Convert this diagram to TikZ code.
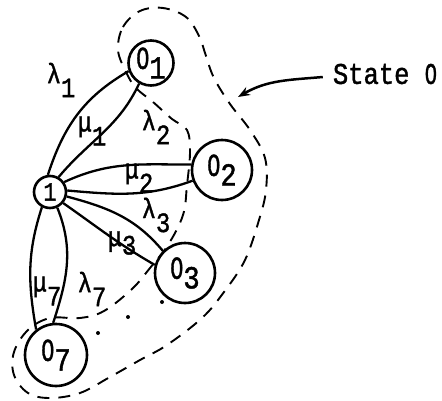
\documentclass[tikz,border=0pt]{standalone}
\usepackage{fontspec}
\setmainfont{Liberation Mono}[FakeBold=1.5]
\usetikzlibrary{arrows.meta}
\newcommand{\hs}[1]{\scalebox{0.85}[1]{#1}}
\newcommand{\zr}{\scalebox{0.8}[1]{O}}
\newcommand{\nsb}[1]{\raisebox{-0.3em}{#1}}
\newcommand{\lsb}[1]{\raisebox{-0.5em}{#1}}
\tikzset{
  st/.style={circle, draw, line width=2.6pt, inner sep=0pt, font=\fontsize{32}{32}\selectfont},
  edge/.style={line width=2.3pt},
  lab/.style={font=\fontsize{28}{28}\selectfont, inner sep=0pt},
  bound/.style={line width=1.9pt, dash pattern=on 12pt off 9pt},
}
\begin{document}
\begin{tikzpicture}[x=1pt,y=1pt]
\useasboundingbox (0,0) rectangle (442,-400);
% nodes
\node[st, minimum size=32pt, font=\fontsize{26}{26}\selectfont] (n1) at (50,-192) {\hs{1}};
\node[st, minimum size=45pt] (o1) at (151,-63) {\hs{\zr\nsb{1}}};
\node[st, minimum size=60pt] (o2) at (222,-170) {\hs{\zr\nsb{2}}};
\node[st, minimum size=60pt] (o3) at (185,-273) {\hs{\zr\nsb{3}}};
\node[st, minimum size=62pt] (o7) at (56,-355) {\hs{\zr\nsb{7}}};
% edges
\draw[edge] (n1.97) to[out=72,in=210] (o1.200);
\draw[edge] (n1.60) to[out=50,in=245] (o1.240);
\draw[edge] (n1.35) to[out=25,in=180] (o2.170);
\draw[edge] (n1.5) to[out=-5,in=200] (o2.200);
\draw[edge] (n1.-15) to[out=-15,in=130] (o3.135);
\draw[edge] (n1.-40) to[out=-35,in=150] (o3.165);
\draw[edge] (n1.-118) to[out=-108,in=100] (o7.128);
\draw[edge] (n1.-65) to[out=-68,in=72] (o7.95);
% labels
\node[lab] (l1) at (61,-80) {\hs{λ\lsb{1}}};
\node[lab] (m1) at (92,-131) {\hs{μ\lsb{1}}};
\node[lab] (l2) at (156,-127) {\hs{λ\lsb{2}}};
\node[lab] (m2) at (139,-178) {\hs{μ\lsb{2}}};
\node[lab] (l3) at (156,-215) {\hs{λ\lsb{3}}};
\node[lab] (m3) at (122,-243) {\hs{μ\nsb{3}}};
\node[lab] (m7) at (47,-291) {\hs{μ\lsb{7}}};
\node[lab] (l7) at (92,-289) {\hs{λ\lsb{7}}};
% boundary
\draw[bound] plot[smooth cycle, tension=0.6] coordinates {
(118,-50) (123,-27) (140,-11) (163,-8) (186,-17) (199,-36) (206,-56) (214,-78)
(230,-104) (250,-130) (265,-158) (266,-190) (259,-220) (245,-260) (224,-292)
(202,-318) (167,-345) (140,-360) (110,-377) (80,-393) (50,-398) (28,-393)
(14,-375) (14,-352) (28,-330) (50,-318) (80,-318) (104,-311) (132,-289)
(150,-268) (168,-245) (183,-215) (187,-185) (190,-152) (187,-130) (172,-119)
(153,-102) (136,-88) (126,-72)};
% dots
\fill (162,-302) circle (2pt);
\fill (128,-317) circle (2pt);
\fill (98,-333) circle (2pt);
% State 0
\node[font=\fontsize{30}{30}\selectfont, inner sep=0pt] (s0) at (385,-74) {\hs{State \zr}};
\coordinate (tip) at (238,-97);
\draw[line width=2.5pt, -{Stealth[length=12pt,width=9pt]}] (s0.west) ++(-10,-3) to[out=185,in=30] (tip);
\end{tikzpicture}
\end{document}
